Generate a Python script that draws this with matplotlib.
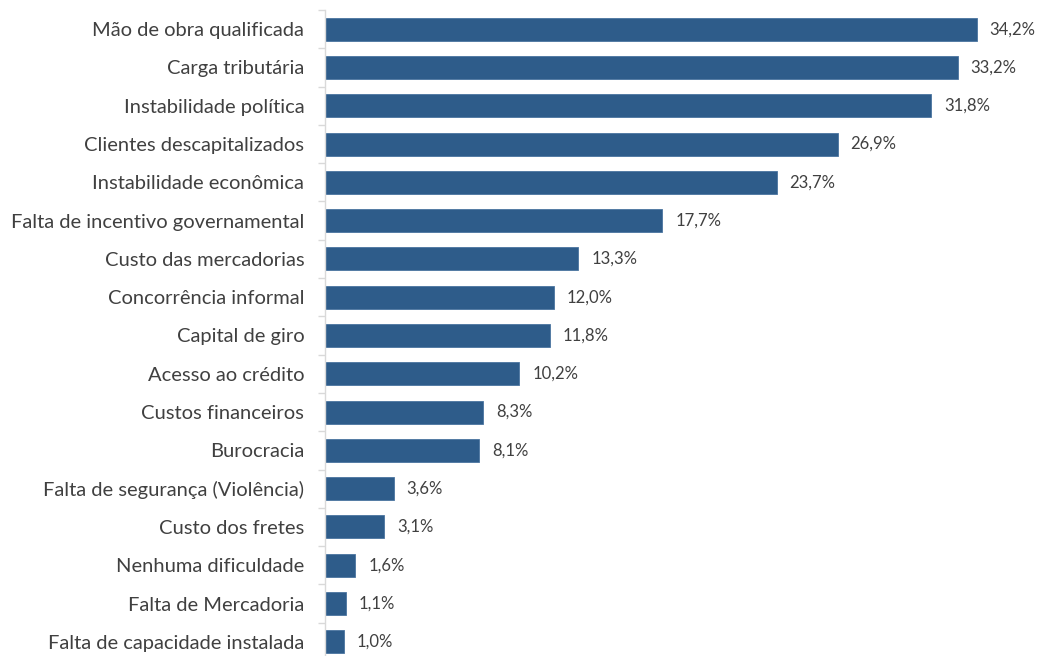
import matplotlib
matplotlib.use("Agg")
import matplotlib.pyplot as plt

categories = [
    "Mão de obra qualificada",
    "Carga tributária",
    "Instabilidade política",
    "Clientes descapitalizados",
    "Instabilidade econômica",
    "Falta de incentivo governamental",
    "Custo das mercadorias",
    "Concorrência informal",
    "Capital de giro",
    "Acesso ao crédito",
    "Custos financeiros",
    "Burocracia",
    "Falta de segurança (Violência)",
    "Custo dos fretes",
    "Nenhuma dificuldade",
    "Falta de Mercadoria",
    "Falta de capacidade instalada",
]
values = [34.2, 33.2, 31.8, 26.9, 23.7, 17.7, 13.3, 12.0, 11.8, 10.2, 8.3, 8.1, 3.6, 3.1, 1.6, 1.1, 1.0]

plt.rcParams['font.family'] = ['Lato', 'DejaVu Sans']

fig = plt.figure(figsize=(10.4, 6.56), dpi=100)
ax = fig.add_axes([325/1040, (656-661)/656, 686/1040, 651/656])

n = len(categories)
ypos = list(range(n))
ax.barh(ypos, values, height=0.6, color="#2E5C8A", edgecolor="#4A74A0", linewidth=0.6)
ax.set_ylim(n - 0.5, -0.5)
ax.set_xlim(0, 36)

for y, v in zip(ypos, values):
    ax.annotate(f"{v:.1f}%".replace(".", ","), (v, y), xytext=(13, 0), textcoords="offset pixels",
                va="center", ha="left", fontsize=12, color="#404040")

ax.set_yticks(ypos)
ax.set_yticklabels(categories, fontsize=14.5, color="#404040")
ax.tick_params(axis="y", length=0, pad=15)
ax.set_yticks([i - 0.5 for i in range(n + 1)], minor=True)
ax.tick_params(axis="y", which="minor", length=5, color="#D9D9D9", width=1)
ax.set_xticks([])
for s in ["top", "right", "bottom"]:
    ax.spines[s].set_visible(False)
ax.spines["left"].set_color("#D9D9D9")
ax.spines["left"].set_linewidth(1)

fig.savefig("out.png", dpi=100)
